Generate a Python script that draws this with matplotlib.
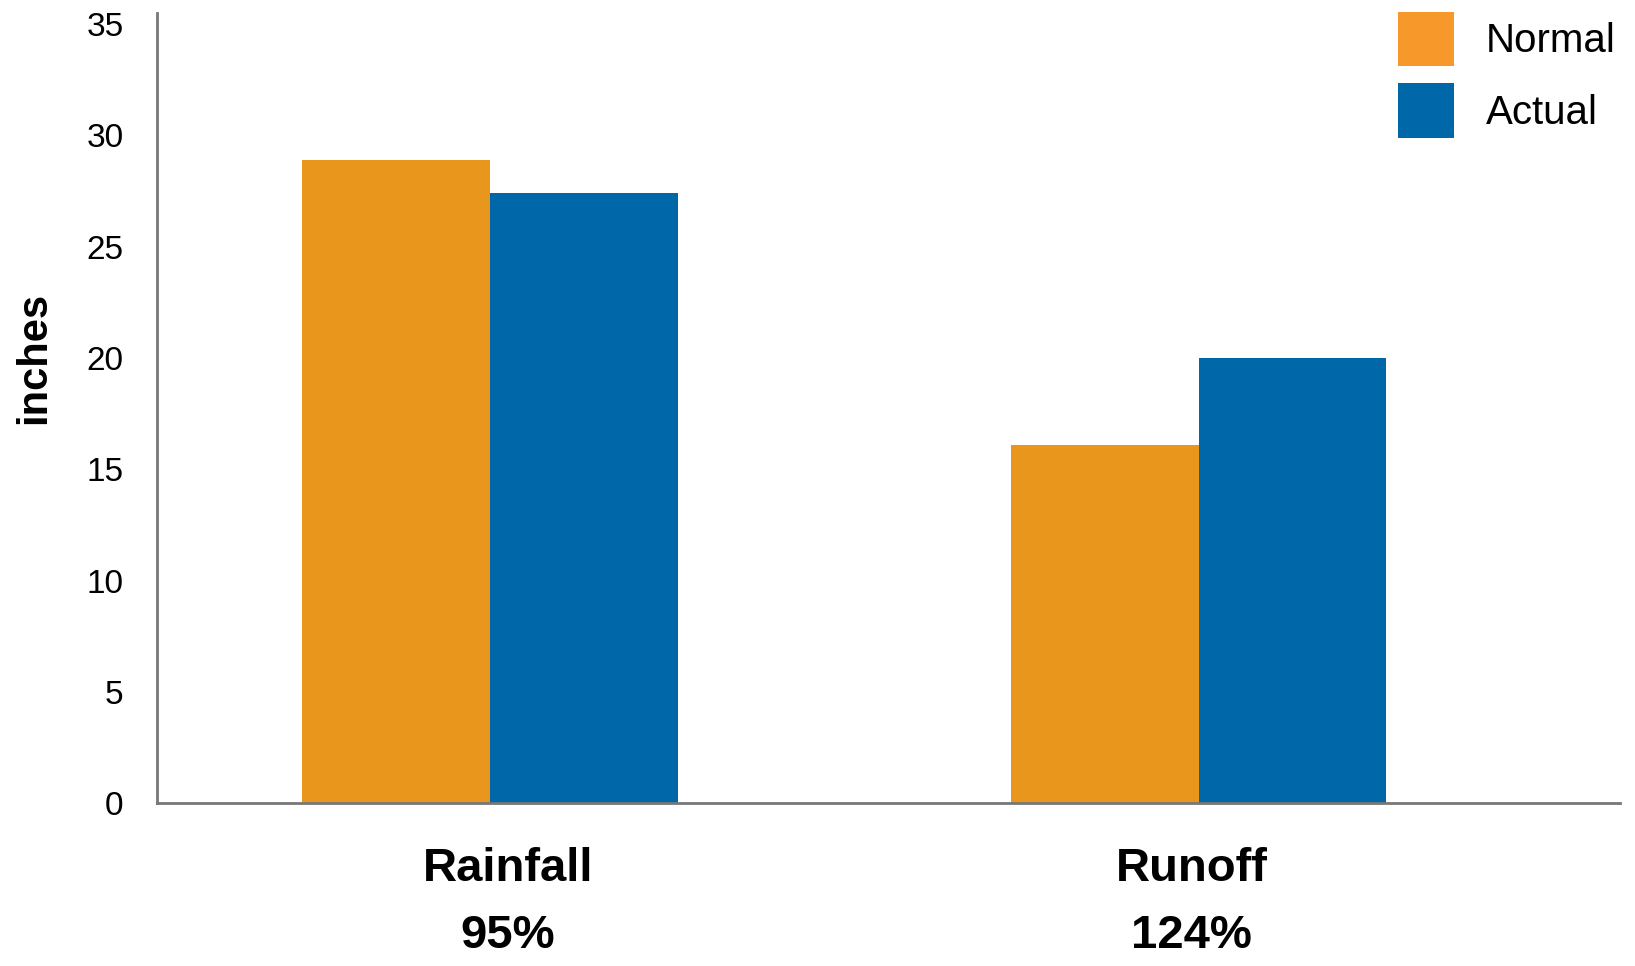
import numpy as np
import matplotlib
matplotlib.use('Agg')
import matplotlib.pyplot as plt
from matplotlib.patches import Patch

plt.rcParams['font.family'] = ['Liberation Sans', 'DejaVu Sans']

categories = ['Rainfall\n95%', 'Runoff\n124%']
normal = [28.9, 16.1]
actual = [27.4, 20.0]
series_names = ['Normal', 'Actual']

bar_orange = '#E8971C'
bar_blue = '#0068A9'
legend_orange = '#F7982A'

fig = plt.figure(figsize=(16.35, 9.66), dpi=100)
ax = fig.add_axes([0.096, 0.1687, 0.895, 0.8178])

x = np.arange(len(categories))
w = 0.265
ax.bar(x - w / 2, normal, w, color=bar_orange, linewidth=0)
ax.bar(x + w / 2, actual, w, color=bar_blue, linewidth=0)

ax.set_xlim(-0.47, 1.595)
ax.set_ylim(0, 35.5)
ax.set_yticks(np.arange(0, 36, 5))
ax.set_xticks(x + np.array([0.025, -0.01]))
ax.set_xticklabels(categories, fontsize=34, fontweight='bold', linespacing=1.65)
ax.tick_params(axis='y', length=0, pad=24, labelsize=24)
ax.tick_params(axis='x', length=0, pad=32)

for s in ['top', 'right']:
    ax.spines[s].set_visible(False)
for s in ['left', 'bottom']:
    ax.spines[s].set_color('#777777')
    ax.spines[s].set_linewidth(2)

fig.text(34 / 1635, 1 - 358 / 966, 'inches', rotation=90, ha='center', va='center',
         fontsize=30, fontweight='bold')

handles = [Patch(facecolor=legend_orange, edgecolor='none'),
           Patch(facecolor=bar_blue, edgecolor='none')]
ax.legend(handles, series_names, loc='upper left', bbox_to_anchor=(1398 / 1635, 1 - 12 / 966),
          bbox_transform=fig.transFigure, frameon=False, fontsize=29, borderpad=0,
          borderaxespad=0, handlelength=1.39, handleheight=1.7, handletextpad=0.8,
          labelspacing=0.42)

plt.savefig('out.png', dpi=100)
